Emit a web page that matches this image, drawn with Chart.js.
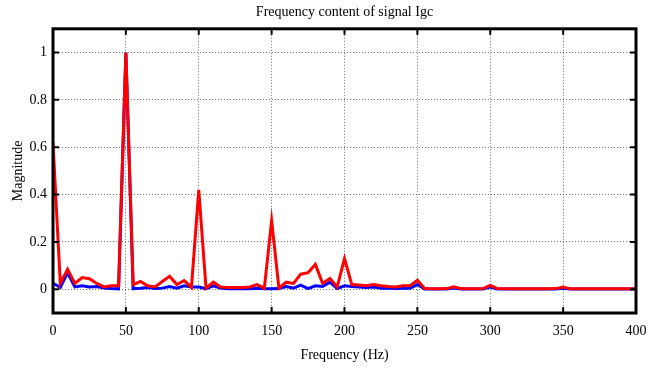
<!DOCTYPE html>
<html>
<head>
<meta charset="utf-8">
<script src="https://cdn.jsdelivr.net/npm/chart.js@4.4.1/dist/chart.umd.min.js"></script>
<style>
  html, body { margin: 0; padding: 0; background: #fff; }
  canvas { display: block; }
</style>
</head>
<body>
<canvas id="chart" width="659" height="370"></canvas>
<script>
// frequency bins (Hz)
const freqHz = [
  0, 5, 10, 15, 20, 25, 30, 35, 40, 45,
  50, 55, 60, 65, 70, 75, 80, 85, 90, 95,
  100, 105, 110, 115, 120, 125, 130, 135, 140, 145,
  150, 155, 160, 165, 170, 175, 180, 185, 190, 195,
  200, 205, 210, 215, 220, 225, 230, 235, 240, 245,
  250, 255, 260, 265, 270, 275, 280, 285, 290, 295,
  300, 305, 310, 315, 320, 325, 330, 335, 340, 345,
  350, 355, 360, 365, 370, 375, 380, 385, 390, 395,
  400
];

// red trace
const redMag = [
  0.62, 0.025, 0.085, 0.025, 0.05, 0.045, 0.025, 0.01, 0.015, 0.015,
  1.0, 0.02, 0.033, 0.015, 0.01, 0.033, 0.055, 0.02, 0.037, 0.008,
  0.42, 0.005, 0.03, 0.01, 0.008, 0.008, 0.008, 0.01, 0.02, 0.005,
  0.29, 0.005, 0.03, 0.025, 0.064, 0.07, 0.105, 0.025, 0.046, 0.01,
  0.13, 0.02, 0.018, 0.015, 0.02, 0.015, 0.012, 0.01, 0.015, 0.015,
  0.038, 0.003, 0.002, 0.002, 0.003, 0.011, 0.003, 0.002, 0.002, 0.003,
  0.017, 0.003, 0.002, 0.002, 0.002, 0.002, 0.002, 0.002, 0.002, 0.003,
  0.01, 0.002, 0.002, 0.002, 0.002, 0.002, 0.002, 0.002, 0.002, 0.002,
  0.002
];

// blue trace
const blueMag = [
  0.025, 0.008, 0.07, 0.01, 0.015, 0.01, 0.012, 0.005, 0.003, 0.002,
  1.0, 0.003, 0.005, 0.008, 0.003, 0.005, 0.012, 0.005, 0.015, 0.01,
  0.01, 0.003, 0.015, 0.005, 0.002, 0.002, 0.002, 0.002, 0.005, 0.002,
  0.002, 0.003, 0.012, 0.005, 0.018, 0.003, 0.015, 0.012, 0.03, 0.003,
  0.015, 0.012, 0.01, 0.008, 0.01, 0.005, 0.005, 0.003, 0.005, 0.005,
  0.02, 0.001, 0.001, 0.001, 0.001, 0.005, 0.001, 0.001, 0.001, 0.001,
  0.01, 0.001, 0.001, 0.001, 0.001, 0.001, 0.001, 0.001, 0.001, 0.001,
  0.004, 0.001, 0.001, 0.001, 0.001, 0.001, 0.001, 0.001, 0.001, 0.001,
  0.001
];

const xTicks = [0, 50, 100, 150, 200, 250, 300, 350, 400];
const yTicks = [0, 0.2, 0.4, 0.6, 0.8, 1];

const FONT = 'Liberation Serif';

const toPoints = (ys) => ys.map((y, i) => ({ x: freqHz[i], y: y }));

// thick black box with inward tick marks, drawn on top of the traces
const framePlugin = {
  id: 'frame',
  afterDraw(chart) {
    const { ctx, chartArea: a, scales } = chart;
    ctx.save();
    ctx.strokeStyle = '#000';
    ctx.lineWidth = 2;
    ctx.beginPath();
    xTicks.forEach(v => {
      const px = scales.x.getPixelForValue(v);
      ctx.moveTo(px, a.bottom); ctx.lineTo(px, a.bottom - 6);
      ctx.moveTo(px, a.top); ctx.lineTo(px, a.top + 6);
    });
    yTicks.forEach(v => {
      const py = scales.y.getPixelForValue(v);
      ctx.moveTo(a.left, py); ctx.lineTo(a.left + 6, py);
      ctx.moveTo(a.right, py); ctx.lineTo(a.right - 6, py);
    });
    ctx.stroke();
    ctx.lineWidth = 3;
    ctx.strokeRect(a.left, a.top, a.right - a.left, a.bottom - a.top);
    ctx.restore();
  }
};

new Chart(document.getElementById('chart'), {
  type: 'line',
  data: {
    datasets: [
      // first dataset is painted last, so red sits on top of blue
      {
        data: toPoints(redMag),
        borderColor: '#ff0000',
        borderWidth: 3,
        pointRadius: 0,
        tension: 0,
      },
      {
        data: toPoints(blueMag),
        borderColor: '#0000ff',
        borderWidth: 3,
        pointRadius: 0,
        tension: 0,
      }
    ]
  },
  options: {
    responsive: false,
    animation: false,
    layout: { padding: { left: 0, right: 23, top: 0, bottom: 0 } },
    plugins: {
      legend: { display: false },
      tooltip: { enabled: false },
      title: {
        display: true,
        text: 'Frequency content of signal Igc',
        color: '#000',
        fullSize: false,
        font: { family: FONT, size: 14, weight: 'normal', lineHeight: 1.2 },
        padding: { top: 4, bottom: 8 }
      }
    },
    scales: {
      x: {
        type: 'linear',
        min: 0,
        max: 400,
        afterBuildTicks: (axis) => { axis.ticks = xTicks.map(v => ({ value: v })); },
        afterFit: (axis) => { axis.height = 57; },
        grid: { color: '#6e6e6e', lineWidth: 1, drawTicks: false },
        border: { display: false, dash: [1, 2] },
        ticks: { color: '#000', padding: 10, maxRotation: 0, font: { family: FONT, size: 14 } },
        title: {
          display: true,
          text: 'Frequency (Hz)',
          color: '#000',
          font: { family: FONT, size: 14 },
          padding: { top: 0, bottom: 6 }
        }
      },
      y: {
        min: -0.1,
        max: 1.1,
        afterBuildTicks: (axis) => { axis.ticks = yTicks.map(v => ({ value: v })); },
        afterFit: (axis) => { axis.width = 53; },
        grid: { color: '#6e6e6e', lineWidth: 1, drawTicks: false },
        border: { display: false, dash: [1, 2] },
        ticks: {
          color: '#000',
          padding: 6,
          font: { family: FONT, size: 14 },
          callback: (v) => String(Math.round(v * 10) / 10)
        },
        title: {
          display: true,
          text: 'Magnitude',
          color: '#000',
          font: { family: FONT, size: 14 },
          padding: { top: 10, bottom: 0 }
        }
      }
    }
  },
  plugins: [framePlugin]
});
</script>
</body>
</html>
